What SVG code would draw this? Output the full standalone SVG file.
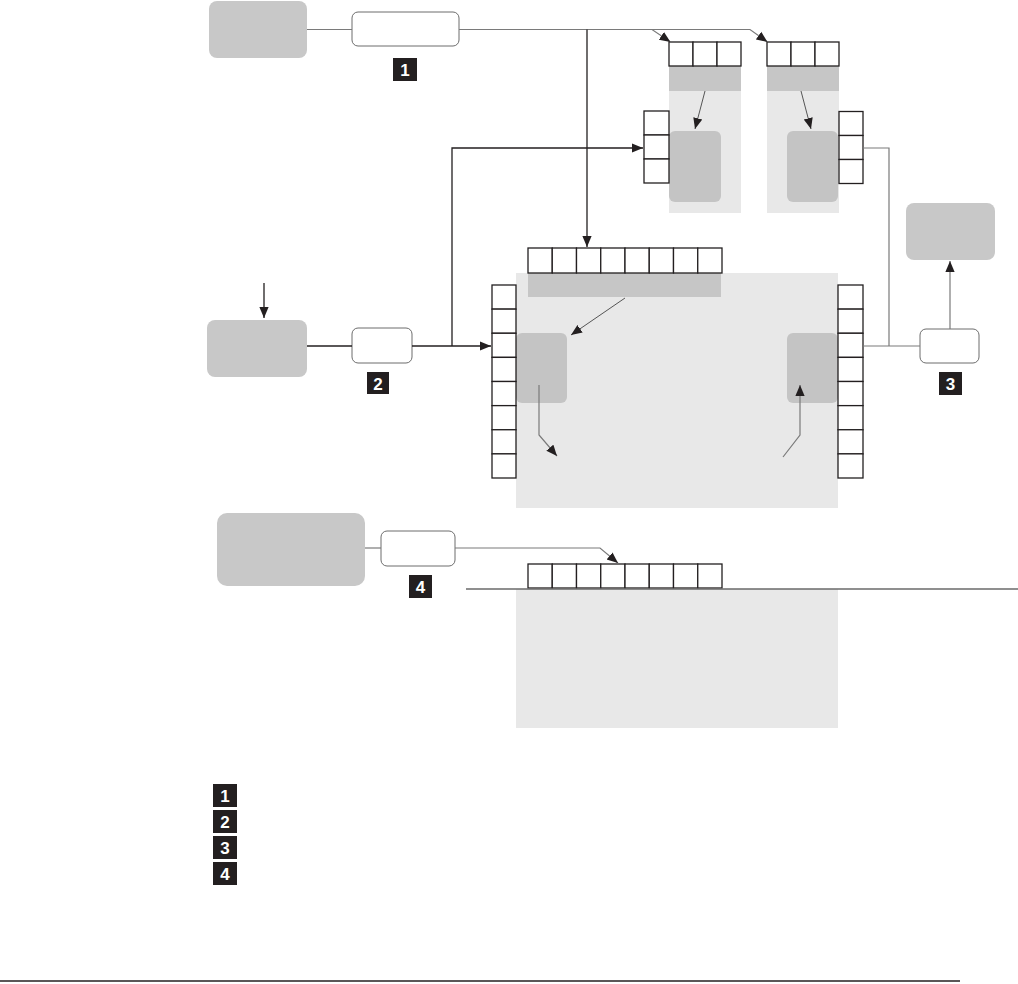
<svg xmlns="http://www.w3.org/2000/svg" width="1018" height="984" viewBox="0 0 1018 984">
<style>
.node{fill:#c8c8c8}
.panel{fill:#e8e8e8}
.bar{fill:#c6c6c6}
.inner{fill:#c4c4c4}
.box{fill:#fff;stroke:#6d6d6d;stroke-width:1}
.cell{fill:#fff;stroke:#231f20;stroke-width:1.3}
.badge{fill:#231f20}
.bt{fill:#fff;font-family:"Liberation Sans",Arial,sans-serif;font-weight:bold;font-size:17px;text-anchor:middle}
.k{fill:none;stroke:#231f20;stroke-width:1.3}
.g{fill:none;stroke:#7a7a7a;stroke-width:1.2}
.t{fill:none;stroke:#444;stroke-width:0.9}
</style>
<defs>
<marker id="ah" viewBox="0 0 10 10" refX="10" refY="5" markerWidth="11" markerHeight="11" markerUnits="userSpaceOnUse" orient="auto">
<path d="M0,0.8 L10,5 L0,9.2 z" fill="#231f20"/>
</marker>
</defs>

<g id="node-top-left"><rect class="node" x="209" y="1" width="98" height="57" rx="8"/></g>
<g id="box-1"><rect class="box" x="352" y="12" width="107" height="34" rx="6"/></g>
<g id="badge-1"><rect class="badge" x="393" y="58" width="24" height="23"/><text class="bt" x="405" y="76">1</text></g>

<g id="unit-a">
<rect class="panel" x="669" y="66" width="72" height="147"/>
<rect class="bar" x="669" y="66" width="72" height="25"/>
<rect class="inner" x="669" y="131" width="52" height="71" rx="6"/>
<rect class="cell" x="669" y="42" width="24" height="24"/>
<rect class="cell" x="693" y="42" width="24" height="24"/>
<rect class="cell" x="717" y="42" width="24" height="24"/>
<rect class="cell" x="644" y="111" width="25" height="24"/>
<rect class="cell" x="644" y="135" width="25" height="24"/>
<rect class="cell" x="644" y="159" width="25" height="24"/>
</g>

<g id="unit-b">
<rect class="panel" x="767" y="66" width="72" height="147"/>
<rect class="bar" x="767" y="66" width="72" height="25"/>
<rect class="inner" x="787" y="131" width="51" height="71" rx="6"/>
<rect class="cell" x="767" y="42" width="24" height="24"/>
<rect class="cell" x="791" y="42" width="24" height="24"/>
<rect class="cell" x="815" y="42" width="24" height="24"/>
<rect class="cell" x="839" y="111.5" width="24" height="24"/>
<rect class="cell" x="839" y="135.5" width="24" height="24"/>
<rect class="cell" x="839" y="159.5" width="24" height="24"/>
</g>

<g id="node-top-right"><rect class="node" x="906" y="203" width="89" height="57" rx="8"/></g>
<g id="box-3"><rect class="box" x="920" y="329" width="59" height="34" rx="6"/></g>
<g id="badge-3"><rect class="badge" x="939" y="372" width="23" height="23"/><text class="bt" x="950.5" y="390">3</text></g>

<g id="node-mid-left"><rect class="node" x="207" y="320" width="100" height="57" rx="8"/></g>
<g id="box-2"><rect class="box" x="352" y="328" width="60" height="35" rx="6"/></g>
<g id="badge-2"><rect class="badge" x="367" y="372" width="22" height="22"/><text class="bt" x="378" y="389.5">2</text></g>

<g id="unit-main">
<rect class="panel" x="516" y="273" width="322" height="235"/>
<rect class="bar" x="528" y="273" width="193" height="24"/>
<rect class="inner" x="516" y="333" width="51" height="70" rx="6"/>
<rect class="inner" x="787" y="333" width="51" height="70" rx="6"/>
<rect class="cell" x="528" y="248" width="24.25" height="25"/>
<rect class="cell" x="552.25" y="248" width="24.25" height="25"/>
<rect class="cell" x="576.5" y="248" width="24.25" height="25"/>
<rect class="cell" x="600.75" y="248" width="24.25" height="25"/>
<rect class="cell" x="625" y="248" width="24.25" height="25"/>
<rect class="cell" x="649.25" y="248" width="24.25" height="25"/>
<rect class="cell" x="673.5" y="248" width="24.25" height="25"/>
<rect class="cell" x="697.75" y="248" width="24.25" height="25"/>
<rect class="cell" x="492" y="285" width="24" height="24.125"/>
<rect class="cell" x="492" y="309.125" width="24" height="24.125"/>
<rect class="cell" x="492" y="333.25" width="24" height="24.125"/>
<rect class="cell" x="492" y="357.375" width="24" height="24.125"/>
<rect class="cell" x="492" y="381.5" width="24" height="24.125"/>
<rect class="cell" x="492" y="405.625" width="24" height="24.125"/>
<rect class="cell" x="492" y="429.75" width="24" height="24.125"/>
<rect class="cell" x="492" y="453.875" width="24" height="24.125"/>
<rect class="cell" x="838" y="285" width="25" height="24.125"/>
<rect class="cell" x="838" y="309.125" width="25" height="24.125"/>
<rect class="cell" x="838" y="333.25" width="25" height="24.125"/>
<rect class="cell" x="838" y="357.375" width="25" height="24.125"/>
<rect class="cell" x="838" y="381.5" width="25" height="24.125"/>
<rect class="cell" x="838" y="405.625" width="25" height="24.125"/>
<rect class="cell" x="838" y="429.75" width="25" height="24.125"/>
<rect class="cell" x="838" y="453.875" width="25" height="24.125"/>
</g>

<g id="node-bottom-left"><rect class="node" x="217" y="513" width="148" height="73" rx="10"/></g>
<g id="box-4"><rect class="box" x="381" y="531" width="74" height="35" rx="6"/></g>
<g id="badge-4"><rect class="badge" x="409" y="575" width="23" height="23"/><text class="bt" x="420.5" y="593">4</text></g>

<g id="unit-bottom">
<rect class="panel" x="516" y="589" width="322" height="139"/>
<rect class="cell" x="528" y="564" width="24.25" height="24"/>
<rect class="cell" x="552.25" y="564" width="24.25" height="24"/>
<rect class="cell" x="576.5" y="564" width="24.25" height="24"/>
<rect class="cell" x="600.75" y="564" width="24.25" height="24"/>
<rect class="cell" x="625" y="564" width="24.25" height="24"/>
<rect class="cell" x="649.25" y="564" width="24.25" height="24"/>
<rect class="cell" x="673.5" y="564" width="24.25" height="24"/>
<rect class="cell" x="697.75" y="564" width="24.25" height="24"/>
</g>

<g id="legend">
<rect class="badge" x="213" y="784" width="24" height="23"/><text class="bt" x="225" y="802">1</text>
<rect class="badge" x="213" y="810" width="24" height="23"/><text class="bt" x="225" y="828">2</text>
<rect class="badge" x="213" y="836" width="24" height="23"/><text class="bt" x="225" y="854">3</text>
<rect class="badge" x="213" y="862" width="24" height="23"/><text class="bt" x="225" y="880">4</text>
</g>

<g id="connectors">
<path class="g" d="M307,29.5 H352"/>
<path class="g" d="M459,29.5 H652 L670.5,42" marker-end="url(#ah)"/>
<path class="g" d="M652,29.5 H750 L767.5,42" marker-end="url(#ah)"/>
<path class="k" d="M587,29.5 V247" marker-end="url(#ah)"/>
<path class="k" d="M264,283 V318" marker-end="url(#ah)"/>
<path class="k" d="M307,346 H352"/>
<path class="k" d="M412,346 H491" marker-end="url(#ah)"/>
<path class="k" d="M452,346 V148 H643" marker-end="url(#ah)"/>
<path class="g" d="M863,148 H889 V346"/>
<path class="g" d="M863,346 H920"/>
<path class="g" d="M950,329 V261" marker-end="url(#ah)"/>
<path class="t" d="M705,91 L695,129" marker-end="url(#ah)"/>
<path class="t" d="M801,91 L811,129" marker-end="url(#ah)"/>
<path class="t" d="M625,298 L571,335" marker-end="url(#ah)"/>
<path class="g" d="M539,385 V435 L557,456" marker-end="url(#ah)"/>
<path class="g" d="M783,457 L800,435 V385" marker-end="url(#ah)"/>
<path class="g" d="M365,548 H381"/>
<path class="g" d="M455,548 H600 L618,563" marker-end="url(#ah)"/>
<path d="M466,589 H1018" fill="none" stroke="#6a6a6a" stroke-width="1.3"/>
<path d="M0,981 H960" fill="none" stroke="#231f20" stroke-width="1.6"/>
</g>
</svg>
